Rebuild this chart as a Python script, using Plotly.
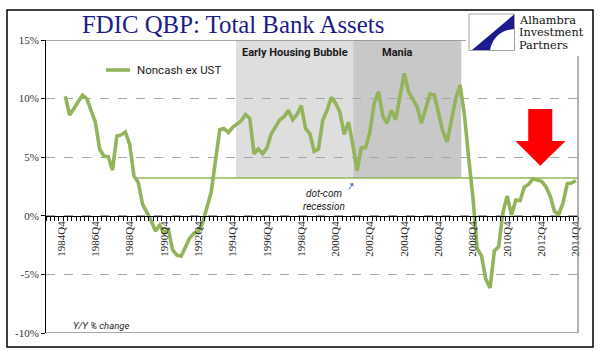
import plotly.graph_objects as go

# ---------------- data ----------------
years = list(range(1984, 2015))
quarters = [f"{y}Q{q}" for y in years for q in (1, 2, 3, 4)]   # category axis 1984Q1..2014Q4
series_name = "Noncash ex UST"
series_start = "1985Q1"
noncash_ex_ust = [
    10.2, 8.6, 9.15, 9.7, 10.3, 10.0, 9.0, 8.0, 5.7, 5.1, 5.05, 3.9,
    6.8, 6.9, 7.15, 6.1, 3.4, 2.85, 1.0, 0.3, -0.4, -1.3, -0.8, -1.45,
    -1.1, -2.9, -3.35, -3.45, -2.7, -1.9, -1.5, -1.35, -0.6, 0.6, 2.0, 4.7,
    7.35, 7.45, 7.1, 7.55, 7.85, 8.1, 8.65, 8.3, 5.3, 5.7, 5.3, 5.8,
    7.0, 7.6, 8.2, 8.45, 9.0, 8.2, 8.65, 9.4, 7.45, 7.0, 5.5, 5.7,
    8.15, 9.0, 10.1, 9.6, 8.85, 6.95, 8.0, 6.1, 3.85, 5.8, 5.8, 7.15,
    9.6, 10.6, 8.5, 7.9, 9.0, 8.2, 10.4, 12.15, 10.6, 10.0, 9.3, 7.9,
    9.3, 10.4, 10.3, 8.85, 7.2, 6.3, 8.0, 10.0, 11.15, 8.7, 5.0, 1.6,
    -2.8, -3.4, -5.4, -6.15, -3.0, -2.65, 0.3, 1.7, 0.05, 1.35, 1.3, 2.45,
    2.7, 3.15, 3.05, 2.95, 2.5, 1.7, 0.4, 0.1, 1.1, 2.75, 2.8, 3.0,
]
tick_labels = [f"{y}Q4" for y in range(1984, 2015, 2)]
y_ticks = [-10, -5, 0, 5, 10, 15]
y_tick_text = ["-10%", "-5%", "0%", "5%", "10%", "15%"]
ref_level = 3.23
ref_start = "1989Q1"
periods = [("Early Housing Bubble", 43.8, 71.1, "#DEDEDE"),
           ("Mania", 71.1, 96.3, "#C8C8C8")]

# ---------------- geometry helpers (layout only) ----------------
W, H = 601, 361
ML, MR, MT, MB = 46, 23, 40, 28
PW, PH = W - ML - MR, H - MT - MB
def pxx(px):
    return (px - ML) / PW
def pxy(py):
    return (H - MB - py) / PH

green = "#93B45A"
start_idx = quarters.index(series_start)
x_vals = list(range(start_idx, start_idx + len(noncash_ex_ust)))

fig = go.Figure()
fig.add_trace(go.Scatter(x=x_vals, y=noncash_ex_ust, mode="lines", name=series_name,
                         line=dict(color=green, width=3.6), hoverinfo="skip"))

shapes = []
for name, a, b, col in periods:
    shapes.append(dict(type="rect", xref="x", yref="y", x0=a, x1=b, y0=ref_level, y1=15,
                       fillcolor=col, line=dict(width=0), layer="below"))
shapes.append(dict(type="line", xref="x", yref="y", x0=quarters.index(ref_start), x1=len(quarters) - 0.5,
                   y0=ref_level, y1=ref_level, line=dict(color=green, width=1.5), layer="between"))
# plot frame lines
shapes.append(dict(type="line", xref="paper", yref="y", x0=0, x1=1, y0=15, y1=15,
                   line=dict(color="#8C8C8C", width=1.3)))
shapes.append(dict(type="line", xref="paper", yref="y", x0=0, x1=1, y0=-10, y1=-10,
                   line=dict(color="#8C8C8C", width=1.3)))
shapes.append(dict(type="line", xref="paper", yref="paper", x0=1, x1=1, y0=0, y1=1,
                   line=dict(color="#8C8C8C", width=1.3)))
# red arrow (decoration)
al, sl, c, sr, ar = 108.9, 111.9, 114.7, 117.5, 120.6
yt, yb, ytip = 9.11, 6.38, 4.27
shapes.append(dict(type="path", xref="x", yref="y",
                   path=f"M {sl},{yt} L {sr},{yt} L {sr},{yb} L {ar},{yb} L {c},{ytip} L {al},{yb} L {sl},{yb} Z",
                   fillcolor="#FF0000", line=dict(width=0)))
# outer frame
shapes.append(dict(type="rect", xref="paper", yref="paper", x0=pxx(7), x1=pxx(593), y0=pxy(347), y1=pxy(10),
                   line=dict(color="black", width=1.5), fillcolor="rgba(0,0,0,0)"))
# legend sample
shapes.append(dict(type="line", xref="paper", yref="paper", x0=pxx(106), x1=pxx(130), y0=pxy(70), y1=pxy(70),
                   line=dict(color=green, width=3.6)))
# logo
shapes.append(dict(type="rect", xref="paper", yref="paper", x0=pxx(466), x1=pxx(592), y0=pxy(56), y1=pxy(11.5),
                   fillcolor="white", line=dict(width=0)))
shapes.append(dict(type="rect", xref="paper", yref="paper", x0=pxx(469), x1=pxx(514.5), y0=pxy(50.5), y1=pxy(14),
                   fillcolor="white", line=dict(color="#A0A0A0", width=1)))
shapes.append(dict(type="path", xref="paper", yref="paper",
                   path=(f"M {pxx(514)},{pxy(14.5)} L {pxx(472)},{pxy(50)} L {pxx(490)},{pxy(50)} "
                         f"Q {pxx(494)},{pxy(31)} {pxx(514)},{pxy(29)} Z"),
                   fillcolor="#1B1B8F", line=dict(width=0)))

ann = []
ann.append(dict(text="FDIC QBP: Total Bank Assets", xref="paper", yref="paper", x=pxx(232.5), y=pxy(25),
                xanchor="center", yanchor="middle", showarrow=False,
                font=dict(family="Liberation Serif", size=24.8, color="#1C1C84")))
ann.append(dict(text=series_name, xref="paper", yref="paper", x=pxx(135), y=pxy(70),
                xanchor="left", yanchor="middle", showarrow=False,
                font=dict(family="Roboto", size=11.5, color="#222222")))
for name, a, b, col in periods:
    ann.append(dict(text=f"<b>{name}</b>", xref="x", yref="paper", x=(a + b) / 2 - (2.3 if name == "Mania" else 0),
                    y=pxy(52.5), xanchor="center", yanchor="middle", showarrow=False,
                    font=dict(family="Liberation Sans Narrow, Roboto", size=11, color="#1A1A1A")))
ann.append(dict(text="<i>dot-com</i>", xref="paper", yref="paper", x=pxx(323.5), y=pxy(193),
                xanchor="center", yanchor="middle", showarrow=False,
                font=dict(family="Roboto", size=10, color="#222222")))
ann.append(dict(text="<i>recession</i>", xref="paper", yref="paper", x=pxx(323.5), y=pxy(206),
                xanchor="center", yanchor="middle", showarrow=False,
                font=dict(family="Roboto", size=10, color="#222222")))
ann.append(dict(text="", xref="x", yref="y", x=71.05, y=2.8, ax=-5, ay=8, showarrow=True,
                arrowhead=1, arrowsize=0.9, arrowwidth=1, arrowcolor="#4F81BD"))
ann.append(dict(text="<i>Y/Y % change</i>", xref="paper", yref="paper", x=pxx(70.5), y=pxy(325),
                xanchor="left", yanchor="middle", showarrow=False,
                font=dict(family="Roboto", size=9.5, color="#222222")))
for t, yy in (("Alhambra", 20), ("Investment", 32.5), ("Partners", 45)):
    ann.append(dict(text=t, xref="paper", yref="paper", x=pxx(517), y=pxy(yy),
                    xanchor="left", yanchor="middle", showarrow=False,
                    font=dict(family="DejaVu Serif", size=11.3, color="#111111")))

fig.update_layout(
    width=W, height=H, margin=dict(l=ML, r=MR, t=MT, b=MB),
    paper_bgcolor="white", plot_bgcolor="white", showlegend=False,
    shapes=shapes, annotations=ann,
    xaxis=dict(range=[-0.5, len(quarters) - 0.5], tickmode="array",
               tickvals=[quarters.index(t) for t in tick_labels], ticktext=tick_labels,
               tickangle=-90, anchor="free", position=(0 - y_ticks[0]) / (y_ticks[-1] - y_ticks[0]),
               showline=True, linecolor="black", linewidth=1, ticks="", showgrid=False, zeroline=False,
               minor=dict(tickmode="linear", tick0=-0.5, dtick=1, ticks="outside", ticklen=4,
                          tickcolor="black", showgrid=False),
               tickfont=dict(family="Liberation Serif", size=11, color="#222222")),
    yaxis=dict(range=[y_ticks[0], y_ticks[-1]], tickmode="array", tickvals=y_ticks, ticktext=y_tick_text,
               ticks="outside", ticklen=4, tickcolor="black", showline=True, linecolor="black", linewidth=1,
               showgrid=True, gridcolor="#A6A6A6", griddash="dash", gridwidth=1, zeroline=False,
               tickfont=dict(family="Liberation Serif", size=11, color="#333333")),
)

fig.write_html("out.html", config={"displayModeBar": False},
               post_script="document.body.style.margin='0';document.body.style.overflow='hidden';")
